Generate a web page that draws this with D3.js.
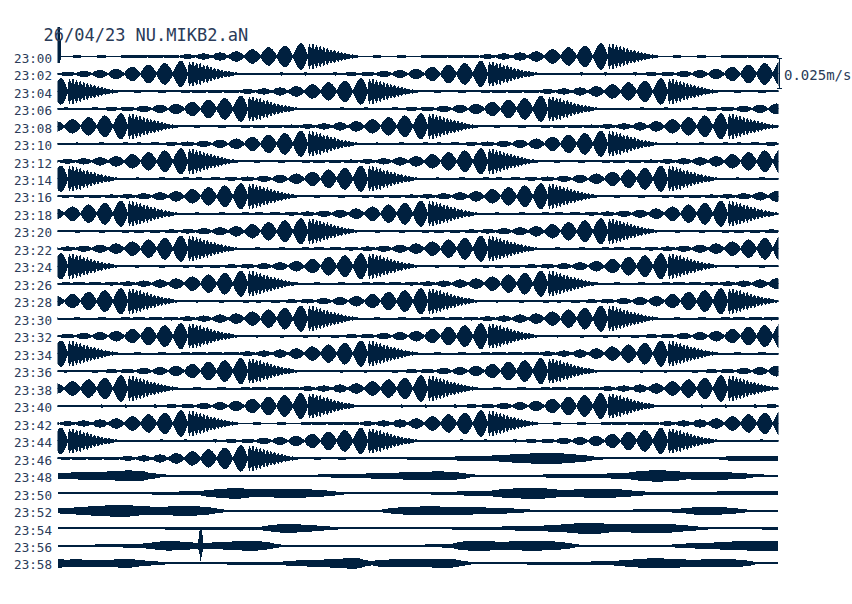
<!DOCTYPE html>
<html>
<head>
<meta charset="utf-8">
<script src="https://cdnjs.cloudflare.com/ajax/libs/d3/7.8.5/d3.min.js"></script>
<style>
  body { margin: 0; background: #fff; }
  svg { display: block; }
</style>
</head>
<body>
<svg width="852" height="604"></svg>
<script>
// helicorder: one trace per 2 minutes, amplitudes in mm/s (half amplitude)
const title = '26/04/23 NU.MIKB2.aN'
const rowLabels = ['23:00', '23:02', '23:04', '23:06', '23:08', '23:10', '23:12', '23:14', '23:16', '23:18',
  '23:20', '23:22', '23:24', '23:26', '23:28', '23:30', '23:32', '23:34', '23:36', '23:38',
  '23:40', '23:42', '23:44', '23:46', '23:48', '23:50', '23:52', '23:54', '23:56', '23:58']
const rowSeconds = 120
const scaleBarValue = 0.025 // m/s
const scaleBarLabel = '0.025m/s'

// the record from 23:00 to 23:46:50 repeats the same 50 s wave train
const cycleSeconds = 50
const cycleEndSecond = 2810
// [seconds into the train, amplitude]
const cycleEnvelope = [
  [0, 0.8], [2.5, 0.8], [3.2, 1.2], [3.9, 0.8], [6.5, 0.8], [7.3, 1.3], [8.1, 0.8], [10.4, 0.8], [11.3, 1.3], [12.15, 0.8],
  [13.5, 1.2], [14.85, 0.8], [16.2, 1.3], [17.55, 0.8], [18.9, 1.6], [20.25, 0.8], [21.6, 2.0], [22.95, 0.8], [24.3, 2.7], [25.65, 0.8],
  [27.0, 3.6], [28.35, 0.8], [29.7, 4.6], [31.05, 0.9], [32.4, 6.1], [33.75, 0.9], [35.1, 7.8], [36.45, 1.0], [37.8, 9.2], [39.15, 1.0],
  [40.5, 11.1], [41.6, 1.7], [41.9, 10.4], [42.2, 5.8], [42.5, 10.8], [42.8, 5.0], [43.1, 9.6], [43.4, 5.0], [43.7, 9.2], [44.0, 4.2],
  [44.3, 7.9], [44.6, 3.8], [44.9, 7.5], [45.2, 3.3], [45.5, 6.3], [45.8, 2.9], [46.1, 5.4], [46.4, 2.5], [46.7, 4.6], [47.0, 2.1],
  [47.3, 3.8], [47.6, 1.7], [47.9, 2.9], [48.2, 1.5], [48.5, 2.5], [48.8, 1.2], [49.1, 1.8], [49.4, 1.0], [49.7, 1.3]
]

// later part of the record, [seconds into the row, amplitude]
const tail2346 = [[50, 0.8], [57.5, 0.8], [59.5, 1.0], [65, 1.3], [69, 2.1], [73.3, 2.5], [78, 3.8], [81, 4.8], [84, 4.2],
  [87, 2.9], [89, 1.7], [91, 0.8], [110, 0.8], [111.5, 1.7], [115, 2.1], [120, 2.3]]
const tail2348 = [[0, 2.5], [2.8, 2.9], [6.2, 3.3], [9.5, 3.8], [11.5, 4.6], [13.7, 4.2], [15.3, 2.5], [17, 1.3], [19, 0.9],
  [40.3, 0.8], [45.3, 1.3], [50.3, 1.8], [55.3, 2.5], [60.3, 3.3], [63.7, 3.8], [66.7, 2.9], [68.7, 1.3], [70.3, 0.9],
  [80.3, 0.9], [81.7, 1.4], [90.3, 1.7], [94.8, 2.5], [97.8, 4.2], [99.8, 4.8], [102.3, 4.2], [104.8, 2.9], [109.2, 3.3],
  [113.7, 2.5], [115.8, 1.3], [120, 0.8]]
const tail2350 = [[0, 0.8], [15.3, 0.8], [17, 1.3], [23.7, 1.7], [25.3, 2.9], [27.8, 3.8], [29.5, 4.6], [32, 3.3], [35.3, 3.3],
  [38.7, 3.8], [42, 3.3], [44.5, 2.5], [46.7, 1.3], [47.8, 0.8], [59.5, 0.8], [65.3, 1.0], [67, 1.7], [72, 2.1], [73.7, 3.3],
  [77, 4.2], [79.5, 4.8], [82, 3.8], [83.7, 2.9], [87, 3.3], [90.3, 3.8], [93.7, 3.3], [96.2, 2.1], [98.7, 1.0], [108.7, 1.0],
  [110.3, 1.7], [120, 1.7]]
const tail2352 = [[0, 2.1], [2, 2.5], [4.2, 3.3], [7, 4.2], [10.7, 5.0], [13.7, 3.8], [17, 3.3], [21.7, 4.2], [24.5, 3.3],
  [26.2, 2.1], [27.8, 1.0], [29, 0.8], [53.7, 0.8], [55.3, 2.1], [58.7, 3.3], [62, 3.8], [65.3, 3.3], [70.3, 2.9], [75.3, 2.1],
  [77.8, 1.3], [79.5, 0.8], [92, 0.8], [93.7, 1.1], [102, 1.2], [104.5, 2.1], [107.8, 3.6], [111.2, 2.9], [113.7, 1.7],
  [115.3, 0.8], [120, 0.8]]
const tail2354 = [[0, 0.8], [17, 0.8], [19, 1.1], [33.7, 1.3], [35.3, 2.5], [38.3, 3.8], [41.2, 2.9], [44.5, 1.7], [47, 0.8],
  [59.5, 0.8], [68.3, 1.0], [73.7, 1.5], [80.3, 2.1], [84.5, 3.3], [89, 4.8], [92, 3.3], [97, 3.5], [100.8, 3.8], [104.5, 2.5],
  [107, 1.3], [108.7, 0.8], [117, 0.8], [118.7, 1.3], [120, 1.3]]
const tail2356 = [[0, 0.8], [5.3, 0.8], [6.2, 1.1], [13.7, 1.5], [15.3, 2.5], [18.3, 4.0], [21.2, 3.3], [23, 2.5], [24.3, 2.5],
  [27, 2.9], [30.3, 3.8], [32.3, 4.2], [34.5, 3.3], [36.2, 1.7], [37.5, 0.8], [52.8, 0.8], [54.5, 1.1], [61.2, 1.1], [63.7, 1.3],
  [65.7, 1.7], [67.8, 3.8], [70.3, 4.2], [73.7, 3.3], [78.7, 4.0], [82, 3.8], [84.2, 2.9], [86.2, 1.3], [87.3, 0.8], [102, 0.8],
  [103.7, 1.7], [108.7, 2.5], [113.7, 3.8], [120, 4.2]]
const tail2358 = [[0, 3.8], [1.2, 2.9], [2.8, 3.3], [5, 2.9], [8.7, 2.9], [11.5, 3.8], [13.7, 2.5], [15.7, 1.7], [17.8, 1.0],
  [19, 0.8], [27.8, 0.8], [28.7, 1.1], [37, 1.1], [38.7, 2.1], [43.7, 2.9], [47, 3.8], [49.5, 4.6], [51.2, 2.5], [52.3, 1.7],
  [53.7, 2.9], [57, 3.3], [61.2, 3.3], [65.3, 3.8], [67.3, 2.1], [69, 0.8], [77.8, 0.8], [78.7, 1.1], [87, 1.3], [92.5, 1.7],
  [95.3, 2.9], [99.2, 4.2], [102, 3.8], [105.3, 2.9], [111.5, 3.5], [114.5, 2.5], [116.2, 1.0], [120, 0.8]]

// short events, [seconds into the row, up, down]
const transient2300 = [[-0.2, 25, 5.4], [0.35, 25, 5.4], [0.5, 0.8, 0.8]]
const spike2356 = [[23.35, 2.5, 2.5], [23.6, 13, 7], [23.8, 14.6, 14.6], [24.0, 12, 6], [24.25, 2.5, 2.5]]

const ink = '#00203f'
const textInk = '#2a3b58'

const svg = d3.select('svg')

const x = d3.scaleLinear().domain([0, rowSeconds]).range([58, 778])
const y = d3.scalePoint().domain(rowLabels).range([56.5, 563.3])
// the scale bar (peak to peak) is 0.025 m/s
const amp = d3.scaleLinear().domain([0, scaleBarValue * 1000]).range([0, 30])

// envelope lobes: round where the trace swings out, pinched near the base line
function lobeCurve(sign) {
  return function (context) {
    let line, point, px, py
    return {
      areaStart() { line = 0 },
      areaEnd() { line = NaN },
      lineStart() { point = 0 },
      lineEnd() {
        if (line || (line !== 0 && point === 1)) context.closePath()
        line = 1 - line
      },
      point(x, y) {
        x = +x; y = +y
        if (point === 0) {
          point = 1
          line ? context.lineTo(x, y) : context.moveTo(x, y)
        } else {
          const dx = x - px, dy = y - py
          if (dy === 0) {
            context.lineTo(x, y)
          } else if (dy * sign > 0) {
            context.bezierCurveTo(px + dx / 3, py + dy * 0.5236, px + 2 * dx / 3, y, x, y)
          } else {
            context.bezierCurveTo(px + dx / 3, py, px + 2 * dx / 3, y - dy * 0.5236, x, y)
          }
        }
        px = x; py = y
      }
    }
  }
}

function cycleRow(i) {
  const t0 = i * rowSeconds
  const pts = []
  const kStart = Math.floor((t0 - 5) / cycleSeconds)
  const kEnd = Math.ceil((t0 + rowSeconds + 5) / cycleSeconds)
  for (let k = kStart; k <= kEnd; k++) {
    cycleEnvelope.forEach(([p, a]) => {
      const t = k * cycleSeconds + p
      if (t < 0 || t > cycleEndSecond) return
      const s = t - t0
      if (s >= -3 && s <= rowSeconds + 3) pts.push([s, a])
    })
  }
  return pts
}

const tails = { '23:46': tail2346, '23:48': tail2348, '23:50': tail2350, '23:52': tail2352,
  '23:54': tail2354, '23:56': tail2356, '23:58': tail2358 }

const rows = rowLabels.map((label, i) => {
  let pts = []
  if (i * rowSeconds < cycleEndSecond) pts = cycleRow(i)
  if (tails[label]) pts = pts.concat(tails[label])
  return { label, pts }
})

svg.append('defs').append('clipPath').attr('id', 'traceClip')
  .append('rect').attr('x', 57.5).attr('y', 0).attr('width', 721).attr('height', 604)

const traces = svg.append('g').attr('clip-path', 'url(#traceClip)')

rows.forEach(row => {
  const base = y(row.label)
  const upper = d3.area()
    .curve(lobeCurve(-1))
    .x(d => x(d[0]))
    .y0(base + 0.5)
    .y1(d => base - amp(d[1]))
  const lower = d3.area()
    .curve(lobeCurve(1))
    .x(d => x(d[0]))
    .y0(base - 0.5)
    .y1(d => base + amp(d[1]))
  traces.append('path')
    .datum(row.pts)
    .attr('fill', ink)
    .attr('shape-rendering', 'crispEdges')
    .attr('d', upper)
  traces.append('path')
    .datum(row.pts)
    .attr('fill', ink)
    .attr('shape-rendering', 'crispEdges')
    .attr('d', lower)
})

function drawEvent(label, pts) {
  const base = y(label)
  const area = d3.area()
    .x(d => x(d[0]))
    .y0(d => base - amp(d[1]))
    .y1(d => base + amp(d[2]))
  traces.append('path')
    .datum(pts)
    .attr('fill', ink)
    .attr('shape-rendering', 'crispEdges')
    .attr('d', area)
}
drawEvent('23:00', transient2300)
drawEvent('23:56', spike2356)

// time labels
const axis = svg.append('g')
  .attr('transform', 'translate(58,0)')
  .call(d3.axisLeft(y).tickSize(0).tickPadding(6))
axis.select('.domain').remove()
axis.attr('font-family', "'DejaVu Sans Mono', monospace")
  .attr('font-size', 12.6)
  .attr('color', textInk)
axis.selectAll('text').attr('dy', '0.45em')

// title
svg.append('text')
  .attr('x', 43.5)
  .attr('y', 40.5)
  .attr('font-family', "'DejaVu Sans Mono', monospace")
  .attr('font-size', 17)
  .attr('fill', textInk)
  .text(title)

// scale bar
const barMid = y(rowLabels[1])
const barTop = barMid - amp(scaleBarValue * 1000) / 2
const barBottom = barMid + amp(scaleBarValue * 1000) / 2
svg.append('path')
  .attr('d', `M777,${barTop}H782M779.5,${barTop}V${barBottom}M777,${barBottom}H782`)
  .attr('stroke', ink)
  .attr('stroke-width', 1)
  .attr('fill', 'none')
  .attr('shape-rendering', 'crispEdges')

svg.append('text')
  .attr('x', 784)
  .attr('y', barMid + 6.5)
  .attr('font-family', "'DejaVu Sans Mono', monospace")
  .attr('font-size', 14)
  .attr('fill', textInk)
  .text(scaleBarLabel)
</script>
</body>
</html>
